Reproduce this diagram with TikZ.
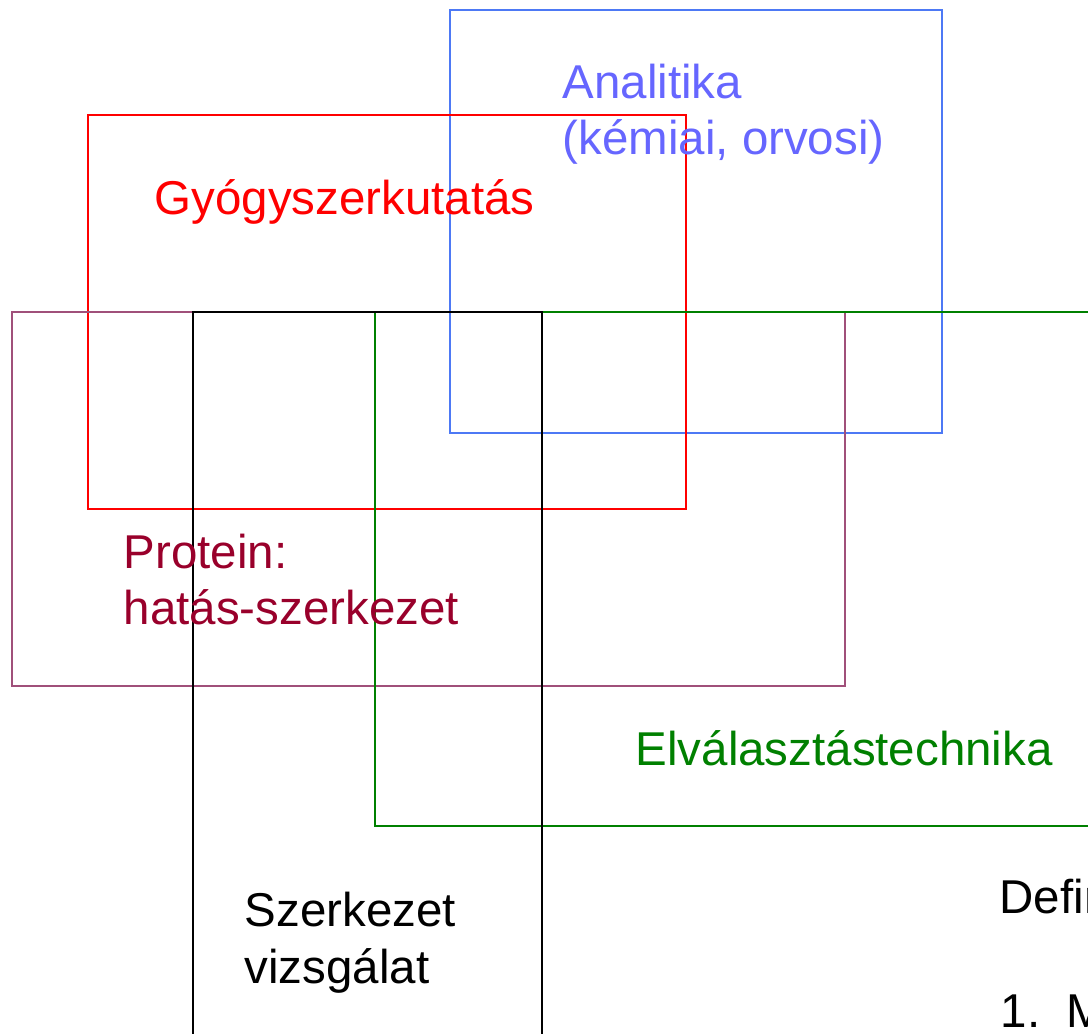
\documentclass[tikz,border=0pt]{standalone}
\usepackage{fontspec}
\setmainfont{Liberation Sans}
\usetikzlibrary{positioning}

\definecolor{anaBlue}{HTML}{4D79F5}
\definecolor{anaText}{HTML}{6666FF}
\definecolor{protLine}{HTML}{A0507A}
\definecolor{protText}{HTML}{99002B}
\definecolor{sepGreen}{HTML}{008000}

\begin{document}
\begin{tikzpicture}[
  x=0.01cm, y=-0.01cm,
  area/.style={line width=0.6pt},
  tag/.style={font=\fontsize{13.5}{16.2}\selectfont, anchor=base west, inner sep=0pt, align=left},
]
\useasboundingbox (0,0) rectangle (1088,1034);
\clip (0,0) rectangle (1088,1034);

% === Overlapping fields ===
\draw[area, anaBlue] (450,10) rectangle (942,433);
\draw[area, red] (88,115) rectangle (686,509);
\draw[area, protLine] (12,312) rectangle (845,686);
\draw[area, sepGreen] (375,312) rectangle (1100,826);
\draw[area, black] (193,312) rectangle (542,1050);

% === Field labels (base = last line) ===
\node[tag, text=anaText] (ana) at (562,155) {Analitika\\(kémiai, orvosi)};
\node[tag, text=red] (gyogy) at (154,215) {Gyógyszerkutatás};
\node[tag, text=protText] (prot) at (123,625) {Protein:\\hatás-szerkezet};
\node[tag, text=sepGreen] (elv) at (635,765) {Elválasztástechnika};
\node[tag] (szerk) at (244,983) {Szerkezet\\vizsgálat};

% === Definition (cut off at the edge) ===
\node[tag] (defi) at (999,913) {Defin};
\node[tag] (pont) at (1000,1027) {1.~~M};

\end{tikzpicture}
\end{document}
